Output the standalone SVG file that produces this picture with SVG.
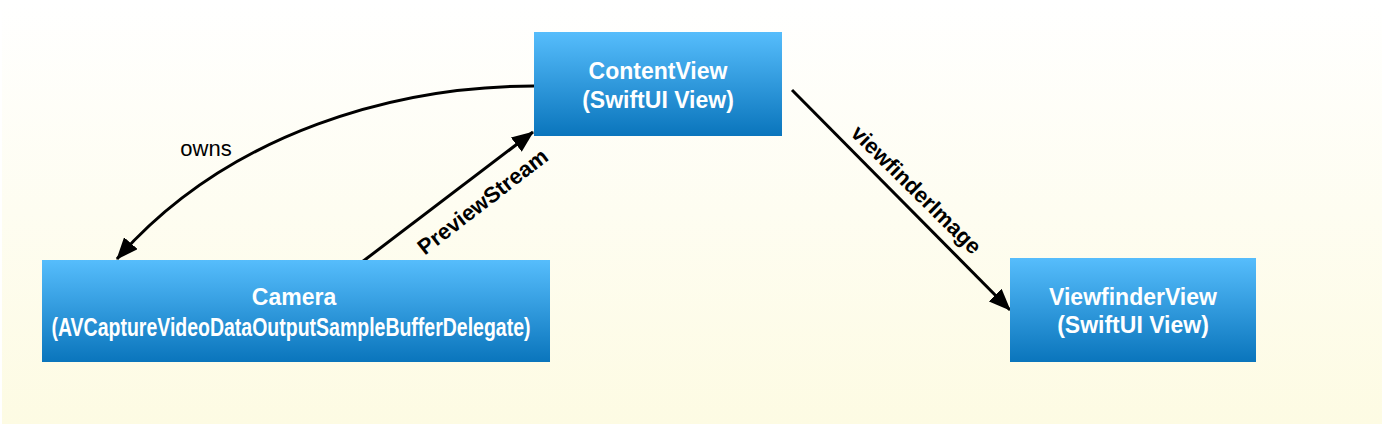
<svg xmlns="http://www.w3.org/2000/svg" width="1386" height="426" viewBox="0 0 1386 426">
  <defs>
    <linearGradient id="bg" x1="0" y1="0" x2="0" y2="1">
      <stop offset="0" stop-color="#ffffff"/>
      <stop offset="1" stop-color="#fdfbe3"/>
    </linearGradient>
    <linearGradient id="box" x1="0" y1="0" x2="0" y2="1">
      <stop offset="0" stop-color="#56bdfc"/>
      <stop offset="1" stop-color="#0a75bc"/>
    </linearGradient>
    <marker id="arrow" markerUnits="userSpaceOnUse" markerWidth="22" markerHeight="18" viewBox="0 0 22 18" refX="21" refY="9" orient="auto">
      <path d="M0,0 L22,9 L0,18 Z" fill="#000"/>
    </marker>
    <style>
      .node rect { fill: url(#box); }
      .ntext { font-family: "Liberation Sans", Arial, sans-serif; font-weight: bold; font-size: 23px; fill: #ffffff; text-anchor: middle; }
      .cond { font-size: 25px; }
      .edge { fill: none; stroke: #000; stroke-width: 3; marker-end: url(#arrow); }
      .elabel { font-family: "Liberation Sans", Arial, sans-serif; font-size: 22px; fill: #000; text-anchor: middle; }
      .bold { font-weight: bold; }
    </style>
  </defs>
  <rect x="0" y="0" width="1386" height="426" fill="#ffffff"/>
  <rect x="2" y="0" width="1380" height="424" fill="url(#bg)"/>

  <g id="connectors">
    <g id="edge-owns">
      <path class="edge" d="M534,86 C400,86 230,130 117,259"/>
      <text class="elabel" x="206" y="156">owns</text>
    </g>
    <g id="edge-previewstream">
      <path class="edge" d="M362,262 L533,132"/>
      <text class="elabel bold" x="483" y="209" transform="rotate(-37.7 483 202)">PreviewStream</text>
    </g>
    <g id="edge-viewfinderimage">
      <path class="edge" d="M792,90 L1010,310"/>
      <text class="elabel bold" x="916" y="197" transform="rotate(44.6 916 190)">viewfinderImage</text>
    </g>
  </g>

  <g id="node-contentview" class="node">
    <rect x="534" y="32" width="248" height="104"/>
    <text class="ntext" x="658" y="79">ContentView</text>
    <text class="ntext" x="658" y="108">(SwiftUI View)</text>
  </g>

  <g id="node-camera" class="node">
    <rect x="42" y="260" width="508" height="102"/>
    <text class="ntext" x="294" y="305">Camera</text>
    <text class="ntext cond" x="291" y="336" textLength="479" lengthAdjust="spacingAndGlyphs">(AVCaptureVideoDataOutputSampleBufferDelegate)</text>
  </g>

  <g id="node-viewfinderview" class="node">
    <rect x="1010" y="258" width="246" height="104"/>
    <text class="ntext" x="1133" y="305">ViewfinderView</text>
    <text class="ntext" x="1133" y="333">(SwiftUI View)</text>
  </g>
</svg>
